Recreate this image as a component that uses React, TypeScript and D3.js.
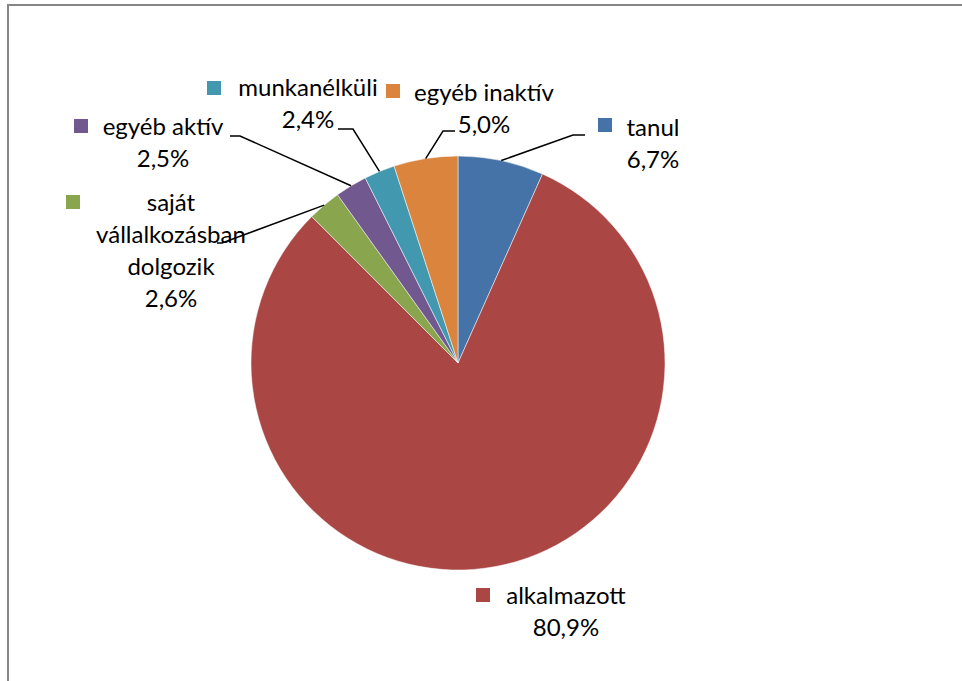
import * as d3 from 'd3';

// pie slices, clockwise from 12 o'clock
const categories = ['tanul', 'alkalmazott', 'saját vállalkozásban dolgozik', 'egyéb aktív', 'munkanélküli', 'egyéb inaktív'];
const shares = [6.7, 80.9, 2.6, 2.5, 2.4, 5.0];
const shareLabels = ['6,7%', '80,9%', '2,6%', '2,5%', '2,4%', '5,0%'];
const colors = ['#4572A7', '#AA4643', '#89A54E', '#71588F', '#4198AF', '#DB843D'];

// label placement (hand tuned like the original)
const labelLayout = [
  { lines: ['tanul'], cx: 653, y: 136, mx: 598, my: 118, elbow: [573, 135], end: [585, 135] },
  { lines: ['alkalmazott'], cx: 566, y: 604, mx: 476, my: 588, elbow: null, end: null },
  { lines: ['saját', 'vállalkozásban', 'dolgozik'], cx: 171, y: 211, mx: 66, my: 195, elbow: [222, 243], end: [217, 243] },
  { lines: ['egyéb aktív'], cx: 163, y: 135, mx: 74, my: 119, elbow: [240, 136], end: [230, 136] },
  { lines: ['munkanélküli'], cx: 308, y: 96, mx: 207, my: 81, elbow: [353, 129], end: [338, 129] },
  { lines: ['egyéb inaktív'], cx: 484, y: 101, mx: 386, my: 84, elbow: [443, 131], end: [455, 131] },
];

const W = 962;
const H = 681;
const cx = 458;
const cy = 363;
const radius = 207;
const lineH = 32;

export default function App() {
  const pie = d3.pie<number>().sort(null).value(d => d);
  const arcs = pie(shares);
  const arc = d3.arc<d3.PieArcDatum<number>>().innerRadius(0).outerRadius(radius);

  return (
    <svg width={W} height={H} style={{ position: 'fixed', left: 0, top: 0, background: '#fff' }}
      fontFamily="Lato, 'Open Sans', sans-serif">
      <rect x={8} y={5} width={1200} height={1000} fill="#fff" stroke="#868686" strokeWidth={2} />
      <g transform={`translate(${cx},${cy})`}>
        {arcs.map((a, i) => (
          <path key={categories[i]} d={arc(a) || ''} fill={colors[i]} stroke="#fff" strokeWidth={0.5} />
        ))}
      </g>
      {arcs.map((a, i) => {
        const L = labelLayout[i];
        if (!L.elbow || !L.end) return null;
        const mid = (a.startAngle + a.endAngle) / 2;
        const sx = cx + radius * Math.sin(mid);
        const sy = cy - radius * Math.cos(mid);
        return (
          <polyline key={'l' + i} points={`${sx},${sy} ${L.elbow[0]},${L.elbow[1]} ${L.end[0]},${L.end[1]}`}
            fill="none" stroke="#000" strokeWidth={1.5} />
        );
      })}
      {labelLayout.map((L, i) => (
        <g key={'t' + i}>
          <rect x={L.mx} y={L.my} width={14} height={14} fill={colors[i]} />
          {[...L.lines, shareLabels[i]].map((t, j) => (
            <text key={j} x={L.cx} y={L.y + j * lineH} textAnchor="middle" fontSize={24} fill="#000">{t}</text>
          ))}
        </g>
      ))}
    </svg>
  );
}
